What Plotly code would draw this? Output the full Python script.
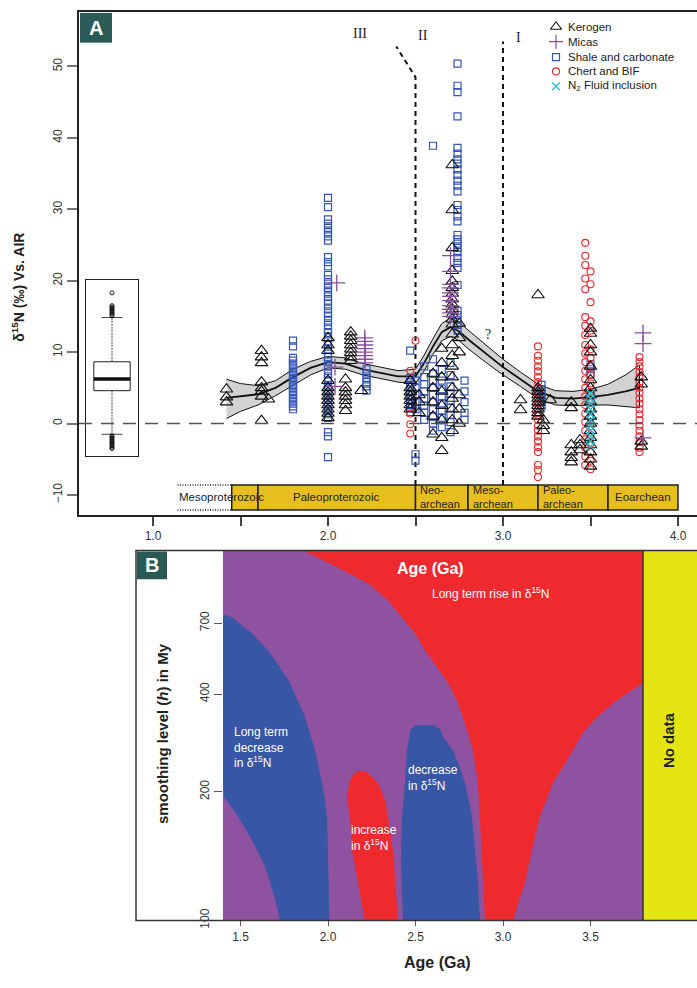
import numpy as np
import plotly.graph_objects as go

W, H = 697, 988
def px(x): return x / W
def py(y): return 1 - y / H

FONT = "Liberation Sans, Arial, sans-serif"
SERIF = "Liberation Serif, Times New Roman, serif"

# ---------------- Panel A data ----------------
kerogen_ages = [1.42, 1.62, 1.66, 2.0, 2.10, 2.13, 2.19, 2.47, 2.52, 2.6, 2.65, 2.71, 2.75,
                3.1, 3.2, 3.23, 3.27, 3.39, 3.44, 3.5, 3.79]
kerogen_vals = [
    [4.8, 3.7, 3.0],
    [10.2, 9.3, 8.5, 5.8, 5.0, 4.5, 3.8, 0.4],
    [3.4],
    [12.0, 11.0, 10.2, 6.0, 5.0, 4.4, 3.8, 3.2, 2.6, 2.0, 1.4, 0.8],
    [6.2, 5.0, 4.4, 3.8, 3.2, 2.6, 1.8],
    [12.8, 12.2, 11.6, 11.0, 10.4, 9.9, 9.3, 8.8],
    [4.6],
    [6.0, 5.0, 4.4, 3.8, 3.2, 2.6, 2.0],
    [4.0, 3.0, 1.5],
    [7.0, 5.0, 3.0, 1.0, -1.5],
    [10.5, 8.5, 6.5, 4.5, 2.5, 0.5, -2.0, -3.8],
    [36.2, 29.9, 24.6, 21.4, 19.9, 19.0, 18.2, 17.4, 16.7, 16.0, 15.3, 14.6, 13.9, 12.5,
     11.0, 9.5, 8.0, 6.5, 5.0, 3.5, 2.0, 0.5, -1.0],
    [14.0, 12.0, 10.0, 4.0, 2.0, 0.0],
    [3.3, 1.9],
    [18.0, 5.0, 4.5, 4.0, 3.5, 3.0, 2.5, 2.0, 1.5, 1.0],
    [0.5, -0.3, -1.0],
    [3.3],
    [3.0, 2.2, -3.0, -4.0, -4.8, -5.4],
    [-2.3, -3.0, -3.7],
    [13.3, 12.6, 11.0, 10.0, 8.0, 6.1, 5.0, 4.0, 3.0, 2.0, 1.0, 0.0, -1.0, -2.0, -3.0,
     -4.0, -5.0, -6.0],
    [6.5, 5.5, -2.5, -3.2],
]

micas_ages = [2.04, 2.05, 2.21, 2.7, 3.8]
micas_vals = [
    [7.9, 5.2],
    [19.7],
    [12.0, 11.5, 11.0, 10.5, 10.0, 9.5, 9.0, 8.5],
    [23.5, 21.3, 19.5, 19.0, 18.3, 17.8, 17.2, 16.5, 16.0, 15.5, 15.0],
    [12.7, 11.2, -2.0],
]

shale_ages = [1.8, 2.0, 2.22, 2.47, 2.5, 2.55, 2.6, 2.65, 2.70, 2.74, 2.78, 3.22, 3.5]
shale_vals = [
    [11.6, 10.8, 9.2, 8.8, 8.4, 8.0, 7.6, 7.2, 6.8, 6.4, 6.0, 5.6, 5.2, 4.8, 4.4, 4.0,
     3.6, 3.2, 2.8, 2.4, 2.0],
    [31.6, 30.3, 28.6, 28.0, 27.4, 26.8, 26.2, 25.6, 23.3, 22.6, 22.0, 20.8, 20.2, 19.6,
     19.0, 18.4, 17.8, 17.2, 16.7, 16.1, 15.5, 15.0, 14.4, 13.8, 13.2, 12.7, 12.1, 11.5,
     11.0, 10.4, 9.8, 9.3, 8.7, 8.1, 7.6, 7.0, 6.4, 5.9, 5.3, 4.7, 4.2, 3.6, 3.0, 2.5,
     1.9, 1.3, 0.8, -1.2, -1.8, -4.7],
    [7.6, 7.0, 6.4, 5.8, 5.2, 4.6],
    [10.2, 6.4, 5.8, 5.2, 4.6, 4.0, 3.4, 2.8, 2.2, 1.6],
    [6.0, 5.0, 4.0, 3.0, 2.0, -4.3, -5.2],
    [8.0, 6.5, 5.5, 4.5, 3.5, 2.5, 1.5, 0.5],
    [38.9, 9.0, 7.0, 6.0, 5.0, 4.0, 3.0, 2.0, 1.0, 0.0, -1.0],
    [7.5, 6.0, 4.8, 3.8, 2.8, 1.8, 0.8, -0.5],
    [8.5, 6.8, 5.2, 4.2, 3.2, 2.2, 1.2, 0.2, -1.2],
    [50.4, 47.3, 46.4, 43.0, 38.6, 37.8, 37.0, 36.4, 35.6, 34.8, 34.0, 33.3, 32.5, 30.6,
     29.9, 29.0, 28.3, 26.4, 25.8, 25.2, 24.6, 24.0, 23.2, 22.5, 21.8, 19.4, 15.8, 15.2,
     14.5, 13.8, 13.0],
    [6.0, 4.5, 3.0, 1.5, 0.5],
    [5.4, 4.8, 4.2, 3.6, 3.0, 2.4],
    [8.3, 7.6, 6.9, 4.0, 3.0, 2.0],
]

chert_ages = [2.47, 2.5, 3.2, 3.47, 3.5, 3.78]
chert_vals = [
    [7.4, 1.4, -0.1, -1.4],
    [11.6],
    [10.8, 9.5, 8.8, 8.0, 7.3, 6.5, 5.8, 5.0, 4.2, 3.5, 2.8, 2.0, 1.2, 0.5, -0.3, -1.0,
     -1.8, -2.5, -3.3, -4.0, -5.8, -6.5, -7.5],
    [25.3, 23.5, 22.2, 20.3, 18.8, 14.9, 13.7, 12.4, 11.0, 9.8, 8.6, 7.4, 6.2, 5.0, 3.8,
     2.6, 1.4, 0.2, -1.0, -2.2, -3.4, -4.6, -5.8],
    [21.3, 19.5, 17.0, 14.3, 13.0, 10.4, 9.2, 8.0, 6.8, 5.6, 4.4, 3.2, 2.0, 0.8, -0.4,
     -1.6, -2.8, -4.0, -5.2, -6.4],
    [9.3, 8.6, 8.0, 7.2, 6.5, 5.7, 5.0, 4.3, 3.5, 2.8, 2.0, 1.3, 0.5, -0.3, -1.0, -1.8,
     -2.6, -3.4, -4.0],
]

n2_ages = [3.5]
n2_vals = [[4.2, 3.5, 2.8, 2.0, 1.3, 0.5, -0.3, -1.0, -1.8, -2.5, -3.2]]

# smoothing curve with confidence band
smooth_age = [1.42, 1.5, 1.6, 1.7, 1.8, 1.9, 2.0, 2.1, 2.2, 2.3, 2.4, 2.5, 2.55, 2.6, 2.65,
              2.7, 2.75, 2.8, 2.9, 3.0, 3.1, 3.2, 3.3, 3.4, 3.5, 3.6, 3.7, 3.78]
smooth_mid = [3.6, 3.8, 4.1, 5.0, 6.5, 7.8, 8.6, 8.4, 7.6, 7.1, 6.6, 6.6, 8.5, 10.8, 12.8,
              13.5, 12.9, 11.8, 9.8, 7.9, 6.2, 4.5, 3.6, 3.5, 3.7, 4.0, 4.5, 5.0]
smooth_up = [6.2, 5.6, 5.3, 6.0, 7.6, 8.7, 9.4, 9.2, 8.4, 7.9, 7.4, 7.6, 9.6, 11.9, 14.0,
             14.8, 14.2, 13.1, 11.0, 9.0, 7.2, 5.5, 4.6, 4.5, 4.8, 5.5, 6.8, 8.2]
smooth_lo = [0.7, 1.7, 2.6, 3.9, 5.3, 6.8, 7.8, 7.6, 6.8, 6.3, 5.8, 5.6, 7.4, 9.7, 11.6,
             12.2, 11.6, 10.5, 8.6, 6.8, 5.2, 3.5, 2.6, 2.5, 2.6, 2.6, 2.4, 2.2]

# boxplot summary of all values
box_q1, box_median, box_q3 = 4.6, 6.25, 8.65
box_low, box_high = -1.5, 14.85
box_outliers = [15.1, 15.3, 15.5, 15.7, 15.9, 16.1, 16.3, 16.5, 18.3,
                -1.7, -1.9, -2.1, -2.3, -2.5, -2.7, -2.9, -3.1, -3.3, -3.5]

# geological eras
era_names = ["Mesoproterozoic", "Paleoproterozoic", "Neo-<br>archean", "Meso-<br>archean",
             "Paleo-<br>archean", "Eoarchean"]
era_start = [1.45, 1.6, 2.5, 2.8, 3.2, 3.6]
era_end = [1.6, 2.5, 2.8, 3.2, 3.6, 4.0]
meso_dotted_start = 1.14
era_top, era_bottom = -8.6, -12.1

# regime boundaries
line_II_age = [2.5, 2.5, 2.39]
line_II_val = [-8.6, 48.5, 52.8]
line_I_age = [3.0, 3.0]
line_I_val = [-8.6, 53.5]

# legend entries
legend_labels = ["Kerogen", "Micas", "Shale and carbonate", "Chert and BIF",
                 "N<sub>2</sub> Fluid inclusion"]

# ---------------- Panel B data (regions in age / smoothing h) ----------------
rise_h = [100, 119, 141, 171, 212, 265, 300, 337, 382, 435, 492, 563, 644, 733, 842, 968, 1106, 1274]
rise_left = [2.897, 2.886, 2.88, 2.869, 2.857, 2.829, 2.80, 2.771, 2.737, 2.686, 2.623, 2.554,
             2.497, 2.423, 2.343, 2.229, 2.057, 1.857]
rise_right = [3.057, 3.126, 3.166, 3.211, 3.286, 3.40, 3.457, 3.537, 3.651, 3.8, 3.8, 3.8,
              3.8, 3.8, 3.8, 3.8, 3.8, 3.8]

ltdec_h = [100, 110, 119, 129, 141, 155, 171, 194, 212, 265, 337, 435, 492, 563, 644, 733, 745]
ltdec_left = [1.726, 1.697, 1.669, 1.64, 1.594, 1.543, 1.486, 1.406, 1.40, 1.40, 1.40, 1.40,
              1.40, 1.40, 1.40, 1.40, 1.40]
ltdec_right = [2.006, 2.006, 2.006, 2.003, 2.0, 1.997, 1.994, 1.98, 1.966, 1.926, 1.869, 1.783,
               1.726, 1.657, 1.566, 1.451, 1.42]

inc_h = [100, 119, 141, 171, 190, 212, 221, 229]
inc_left = [2.211, 2.171, 2.137, 2.126, 2.109, 2.12, 2.137, 2.165]
inc_right = [2.40, 2.383, 2.371, 2.343, 2.326, 2.286, 2.251, 2.215]

dec_h = [100, 119, 141, 171, 212, 236, 265, 291, 306, 317]
dec_left = [2.429, 2.42, 2.417, 2.423, 2.44, 2.445, 2.451, 2.465, 2.47, 2.50]
dec_right = [2.869, 2.857, 2.84, 2.823, 2.783, 2.754, 2.714, 2.657, 2.645, 2.61]

h_ticks = [100, 200, 400, 700]
h_min, h_max = 100, 1274
data_start, data_end, age_max = 1.4, 3.8, 4.1086


def hu(h):
    return np.log(np.asarray(h, dtype=float) - 52.0)


def flat(ages, vals):
    xs, ys = [], []
    for a, v in zip(ages, vals):
        xs += [a] * len(v)
        ys += list(v)
    return xs, ys


BLUE = "#3656b5"
RED = "#e8262b"
PURPLE = "#8a4d9c"
CYAN = "#20c4d4"

MK = {
    "Kerogen": dict(symbol="triangle-up-open", size=11, color="#111", line=dict(width=1.1, color="#111")),
    "Micas": dict(symbol="cross-thin-open", size=12, color=PURPLE, line=dict(width=1.3, color=PURPLE)),
    "Shale": dict(symbol="square-open", size=7, color=BLUE, line=dict(width=1.2, color=BLUE)),
    "Chert": dict(symbol="circle-open", size=7, color=RED, line=dict(width=1.1, color=RED)),
    "N2": dict(symbol="x-thin-open", size=8, color=CYAN, line=dict(width=1.3, color=CYAN)),
}
MK_LEG = dict(MK)
MK_LEG["Micas"] = dict(symbol="cross-thin-open", size=10, color=PURPLE, line=dict(width=1.2, color=PURPLE))
MK_LEG["Kerogen"] = dict(symbol="triangle-up-open", size=10, color="#111", line=dict(width=1.1, color="#111"))

fig = go.Figure()

# smoothing band
fig.add_trace(go.Scatter(x=smooth_age + smooth_age[::-1], y=smooth_up + smooth_lo[::-1],
                         fill="toself", fillcolor="#d2d2d2", line=dict(color="#111", width=1),
                         mode="lines", showlegend=False, hoverinfo="skip"))
fig.add_trace(go.Scatter(x=smooth_age, y=smooth_mid, mode="lines",
                         line=dict(color="#111", width=1.8), showlegend=False))

# zero line
fig.add_shape(type="line", xref="x domain", yref="y", x0=0, x1=1, y0=0, y1=0,
              line=dict(color="#555", width=1.5, dash="13px,9px"))

# regime lines
fig.add_trace(go.Scatter(x=line_II_age, y=line_II_val, mode="lines",
                         line=dict(color="#111", width=2, dash="5px,4px"), showlegend=False))
fig.add_trace(go.Scatter(x=line_I_age, y=line_I_val, mode="lines",
                         line=dict(color="#111", width=2, dash="5px,4px"), showlegend=False))

for key, ages, vals in [("Shale", shale_ages, shale_vals), ("Chert", chert_ages, chert_vals),
                        ("Kerogen", kerogen_ages, kerogen_vals), ("Micas", micas_ages, micas_vals),
                        ("N2", n2_ages, n2_vals)]:
    xs, ys = flat(ages, vals)
    fig.add_trace(go.Scatter(x=xs, y=ys, mode="markers", marker=MK[key], showlegend=False))

# manual legend (symbol + label)
legend_keys = ["Kerogen", "Micas", "Shale", "Chert", "N2"]
legend_rows = [27, 42, 57.5, 72, 87]
for key, lab, row in zip(legend_keys, legend_labels, legend_rows):
    fig.add_trace(go.Scatter(x=[556], y=[row], mode="markers", marker=MK_LEG[key],
                             xaxis="x4", yaxis="y4", showlegend=False))
    fig.add_annotation(x=566, y=row, xref="x4", yref="y4", text=lab, showarrow=False,
                       xanchor="left", yanchor="middle",
                       font=dict(family=FONT, size=11.5, color="#222"))

# era bars
for name, a0, a1 in zip(era_names, era_start, era_end):
    fig.add_shape(type="rect", xref="x", yref="y", x0=a0, x1=a1, y0=era_bottom, y1=era_top,
                  fillcolor="#e6bf1f", line=dict(color="#222", width=1.5), layer="above")
for yv in (era_top, era_bottom):
    fig.add_shape(type="line", xref="x", yref="y", x0=meso_dotted_start, x1=era_start[0],
                  y0=yv, y1=yv, line=dict(color="#222", width=1.5, dash="1px,1.5px"))
for i, (name, a0, a1) in enumerate(zip(era_names, era_start, era_end)):
    if "<br>" in name:
        fig.add_annotation(x=a0 + 0.015, y=(era_top + era_bottom) / 2, xref="x", yref="y",
                           text=name, showarrow=False, xanchor="left", yanchor="middle",
                           align="left", font=dict(family=FONT, size=11, color="#222"))
    else:
        xc = (meso_dotted_start + a1) / 2 + 0.02 if i == 0 else (a0 + a1) / 2
        fig.add_annotation(x=xc, y=(era_top + era_bottom) / 2, xref="x", yref="y",
                           text=name, showarrow=False, xanchor="center", yanchor="middle",
                           font=dict(family=FONT, size=11.5, color="#222"))

for txt, a, v in [("III", 2.18, 54.6), ("II", 2.54, 54.4), ("I", 3.09, 54.0), ("?", 2.914, 12.4)]:
    fig.add_annotation(x=a, y=v, xref="x", yref="y", text=txt, showarrow=False,
                       xanchor="center", yanchor="middle",
                       font=dict(family=SERIF, size=14, color="#222"))

# inset boxplot
bx0, bx1 = 0.15, 0.85
fig.add_trace(go.Scatter(x=[bx0, bx1, bx1, bx0, bx0], y=[box_q1, box_q1, box_q3, box_q3, box_q1],
                         mode="lines", line=dict(color="#222", width=1), xaxis="x3", yaxis="y3",
                         showlegend=False))
fig.add_trace(go.Scatter(x=[bx0, bx1], y=[box_median, box_median], mode="lines",
                         line=dict(color="#111", width=3.5), xaxis="x3", yaxis="y3",
                         showlegend=False))
for a, b in [(box_q3, box_high), (box_q1, box_low)]:
    fig.add_trace(go.Scatter(x=[0.5, 0.5], y=[a, b], mode="lines",
                             line=dict(color="#444", width=1, dash="2px,1px"),
                             xaxis="x3", yaxis="y3", showlegend=False))
    fig.add_trace(go.Scatter(x=[0.3, 0.7], y=[b, b], mode="lines",
                             line=dict(color="#444", width=1.2),
                             xaxis="x3", yaxis="y3", showlegend=False))
fig.add_trace(go.Scatter(x=[0.5] * len(box_outliers), y=box_outliers, mode="markers",
                         marker=dict(symbol="circle-open", size=4, color="#111",
                                     line=dict(width=1, color="#111")),
                         xaxis="x3", yaxis="y3", showlegend=False))

# ---------------- Panel B ----------------
fig.add_trace(go.Scatter(x=[data_start, data_end, data_end, data_start, data_start],
                         y=list(hu([h_min, h_min, h_max, h_max, h_min])), fill="toself",
                         fillcolor="#8e52a0", line=dict(width=0), mode="lines",
                         xaxis="x2", yaxis="y2", showlegend=False, hoverinfo="skip"))
for hs, lft, rgt, col in [(rise_h, rise_left, rise_right, "#ee2a2f"),
                          (ltdec_h, ltdec_left, ltdec_right, "#3856a6"),
                          (inc_h, inc_left, inc_right, "#ee2a2f"),
                          (dec_h, dec_left, dec_right, "#3856a6")]:
    u = list(hu(hs))
    fig.add_trace(go.Scatter(x=lft + rgt[::-1], y=u + u[::-1], fill="toself", fillcolor=col,
                             line=dict(width=0), mode="lines", xaxis="x2", yaxis="y2",
                             showlegend=False, hoverinfo="skip"))
fig.add_trace(go.Scatter(x=[data_end, age_max, age_max, data_end, data_end],
                         y=list(hu([h_min, h_min, h_max, h_max, h_min])), fill="toself",
                         fillcolor="#e5e514", line=dict(width=0), mode="lines",
                         xaxis="x2", yaxis="y2", showlegend=False, hoverinfo="skip"))
fig.add_trace(go.Scatter(x=[data_end, data_end], y=list(hu([h_min, h_max])), mode="lines",
                         line=dict(color="#333", width=1.5), xaxis="x2", yaxis="y2",
                         showlegend=False))

for txt, a, hh, size, bold, anchor in [
        ("Age (Ga)", 2.583, 6.951, 16, True, "center"),
        ("Long term rise in δ<sup>15</sup>N", 2.926, 6.733, 12, False, "center"),
        ("Long term<br>decrease<br>in δ<sup>15</sup>N", 1.451, 5.381, 12, False, "left"),
        ("decrease<br>in δ<sup>15</sup>N", 2.446, 5.119, 12, False, "left"),
        ("increase<br>in δ<sup>15</sup>N", 2.12, 4.595, 12, False, "left")]:
    fig.add_annotation(x=a, y=hh, xref="x2", yref="y2", text=f"<b>{txt}</b>" if bold else txt,
                       showarrow=False, xanchor=anchor, yanchor="middle", align="left",
                       font=dict(family=FONT, size=size, color="white"))
fig.add_annotation(x=3.943, y=5.45, xref="x2", yref="y2", text="<b>No data</b>", textangle=-90,
                   showarrow=False, xanchor="center", yanchor="middle",
                   font=dict(family=FONT, size=15, color="#222"))

# frame of panel B
fig.add_shape(type="rect", xref="paper", yref="paper", x0=px(136), x1=px(699), y0=py(928),
              y1=py(555), line=dict(color="#333", width=1.5))

# panel labels
for lab, x0, x1, y0, y1 in [("A", 80, 112, 13, 43), ("B", 137, 167, 556, 584)]:
    fig.add_shape(type="rect", xref="paper", yref="paper", x0=px(x0), x1=px(x1), y0=py(y1),
                  y1=py(y0), fillcolor="#2b5a56", line=dict(width=0))
    fig.add_annotation(x=px((x0 + x1) / 2), y=py((y0 + y1) / 2), xref="paper", yref="paper",
                       text=f"<b>{lab}</b>", showarrow=False, xanchor="center", yanchor="middle",
                       font=dict(family=FONT, size=20, color="white"))

# axis titles
fig.add_annotation(x=px(18), y=py(290), xref="paper", yref="paper", textangle=-90,
                   text="<b>δ<sup>15</sup>N (‰) Vs. AIR</b>", showarrow=False,
                   xanchor="center", yanchor="middle",
                   font=dict(family=FONT, size=14, color="#222"))
fig.add_annotation(x=px(162), y=py(740), xref="paper", yref="paper", textangle=-90,
                   text="<b>smoothing level (<i>h</i>) in My</b>", showarrow=False,
                   xanchor="center", yanchor="middle",
                   font=dict(family=FONT, size=15, color="#222"))
fig.add_annotation(x=px(437), y=py(970), xref="paper", yref="paper",
                   text="<b>Age (Ga)</b>", showarrow=False, xanchor="center", yanchor="middle",
                   font=dict(family=FONT, size=16, color="#222"))

yA0, yA1 = (427 - 519) / 7.2, (427 - 12) / 7.2
fig.update_layout(
    width=W, height=H, margin=dict(l=0, r=0, t=0, b=0),
    paper_bgcolor="white", plot_bgcolor="rgba(0,0,0,0)",
    font=dict(family=FONT, color="#333"), showlegend=False,
    xaxis=dict(domain=[px(79), 1], range=[0.5771, 4.1086],
               tickvals=[1, 2, 3, 4], ticktext=["1.0", "2.0", "3.0", "4.0"],
               ticks="outside", ticklen=9, tickwidth=1.5, tickcolor="#444",
               minor=dict(tickmode="linear", tick0=0, dtick=0.5, ticks="outside", ticklen=9,
                          tickwidth=1.5, tickcolor="#444", showgrid=False),
               showline=True, linecolor="#222", linewidth=2, mirror=True,
               showgrid=False, zeroline=False, tickfont=dict(size=12, color="#333")),
    yaxis=dict(domain=[py(519), py(12)], range=[yA0, yA1],
               tickvals=[-10, 0, 10, 20, 30, 40, 50], tickangle=-90,
               ticks="outside", ticklen=10, tickwidth=1.5, tickcolor="#777",
               showline=True, linecolor="#222", linewidth=2,
               showgrid=False, zeroline=False, tickfont=dict(size=12, color="#333")),
    xaxis2=dict(domain=[px(223), 1], range=[data_start, age_max], anchor="y2",
                tickvals=[1.5, 2.0, 2.5, 3.0, 3.5], ticktext=["1.5", "2.0", "2.5", "3.0", "3.5"],
                ticks="outside", ticklen=5, tickcolor="#555", showline=False,
                showgrid=False, zeroline=False, tickfont=dict(size=12, color="#333")),
    yaxis2=dict(domain=[py(928), py(555)], range=[float(hu(h_min)), float(hu(h_max))],
                anchor="x2", tickvals=list(hu(h_ticks)), ticktext=[str(t) for t in h_ticks],
                tickangle=-90, ticks="outside", ticklen=8, tickcolor="#555",
                showline=False, showgrid=False, zeroline=False,
                tickfont=dict(size=12, color="#333")),
    xaxis3=dict(domain=[px(86), px(138)], range=[0, 1], anchor="y3", showticklabels=False,
                ticks="", showgrid=False, zeroline=False, showline=True, mirror=True,
                linecolor="#222", linewidth=1),
    yaxis3=dict(domain=[py(460), py(282)], range=[(427 - 460) / 7.2, (427 - 282) / 7.2],
                anchor="x3", showticklabels=False, ticks="", showgrid=False, zeroline=False,
                showline=True, mirror=True, linecolor="#222", linewidth=1),
    xaxis4=dict(domain=[px(540), 1], range=[540, 697], anchor="y4", visible=False),
    yaxis4=dict(domain=[py(100), py(15)], range=[100, 15], anchor="x4", visible=False),
)

fig.write_html("out.html", config={"displayModeBar": False},
               post_script="document.body.style.margin='0px';")
